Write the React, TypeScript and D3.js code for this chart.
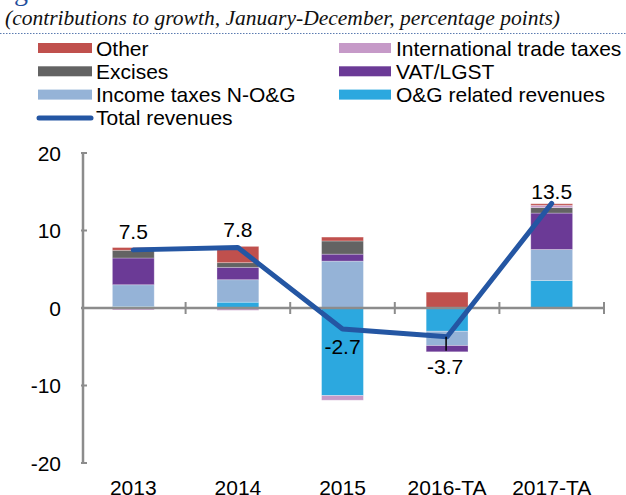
import React from "react";
import * as d3 from "d3";

const categories = ["2013", "2014", "2015", "2016-TA", "2017-TA"];
const ogRevenues = [0.2, 0.75, -11.3, -3.0, 3.55];
const incomeTaxes = [2.8, 2.9, 6.05, -1.85, 4.0];
const vatLgst = [3.45, 1.6, 0.9, -0.8, 4.7];
const excises = [1.0, 0.6, 1.7, 0, 0.7];
const tradeTaxes = [-0.25, -0.3, -0.6, 0, 0.3];
const other = [0.35, 2.1, 0.5, 2.05, 0.2];
const totalRevenues = [7.5, 7.8, -2.7, -3.7, 13.5];
const totalLabels = ["7.5", "7.8", "-2.7", "-3.7", "13.5"];
const yTicks = [20, 10, 0, -10, -20];

const seriesKeys = ["og", "income", "vat", "excises", "trade", "other"];
const seriesNames: Record<string, string> = {
  og: "O&G related revenues",
  income: "Income taxes N-O&G",
  vat: "VAT/LGST",
  excises: "Excises",
  trade: "International trade taxes",
  other: "Other",
};
const seriesColors: Record<string, string> = {
  og: "#2ca8df",
  income: "#95b3d7",
  vat: "#6b3a96",
  excises: "#636363",
  trade: "#c69ac8",
  other: "#c0504d",
};
const lineColor = "#2456a3";

// label layout (pixel offsets relative to the point)
const labelDy = [-11, -11, 25, 37, -4];
const FONT = "'Liberation Sans', Arial, sans-serif";

export default function App() {
  const W = 626;
  const H = 495;
  const x = d3
    .scaleBand<string>()
    .domain(categories)
    .range([81, 604])
    .paddingInner(0.6)
    .paddingOuter(0.3);
  const y = d3.scaleLinear().domain([-20, 20]).range([463, 153]);
  const step = x.step();
  const center = (c: string) => (x(c) as number) + x.bandwidth() / 2;

  const rows = categories.map((c, i) => ({
    cat: c,
    og: ogRevenues[i],
    income: incomeTaxes[i],
    vat: vatLgst[i],
    excises: excises[i],
    trade: tradeTaxes[i],
    other: other[i],
  }));
  const stack = d3
    .stack<any>()
    .keys(seriesKeys)
    .offset(d3.stackOffsetDiverging);
  const stacked = stack(rows);

  const linePts: [number, number][] = categories.map((c, i) => [
    center(c),
    y(totalRevenues[i]),
  ]);
  const lineGen = d3.line();

  const axisColor = "#8c8c8c";
  const boundaries = d3.range(categories.length + 1).map((i) => 81 + i * step);

  const legendLeft = [
    { key: "other" },
    { key: "excises" },
    { key: "income" },
  ];
  const legendRight = [{ key: "trade" }, { key: "vat" }, { key: "og" }];
  const rowY = [48, 71.3, 94.6, 117.9];

  return (
    <svg
      width={W}
      height={H}
      style={{ position: "absolute", left: 0, top: 0, background: "#fff" }}
    >
      <rect x={0} y={0} width={W} height={H} fill="#fff" />
      {/* cut-off title glyph */}
      <text
        x={14}
        y={0}
        fontFamily="'Liberation Serif', serif"
        fontSize={28}
        fill="#1f4e9c"
      >
        g
      </text>
      <text
        x={5}
        y={25}
        fontFamily="'Liberation Serif', 'Times New Roman', serif"
        fontStyle="italic"
        fontSize={21}
        fill="#111"
        textLength={555}
        lengthAdjust="spacingAndGlyphs"
      >
        (contributions to growth, January-December, percentage points)
      </text>
      <line
        x1={0}
        x2={W}
        y1={33.5}
        y2={33.5}
        stroke="#5b7bb0"
        strokeWidth={1}
        strokeDasharray="1.5,1.5"
      />

      {/* legend */}
      {legendLeft.map((d, i) => (
        <g key={d.key}>
          <rect
            x={38}
            y={rowY[i] - 5}
            width={54}
            height={10}
            fill={seriesColors[d.key]}
          />
          <text
            x={96}
            y={rowY[i] + 7.5}
            fontFamily={FONT}
            fontSize={21}
            fill="#000"
          >
            {seriesNames[d.key]}
          </text>
        </g>
      ))}
      {legendRight.map((d, i) => (
        <g key={d.key}>
          <rect
            x={339}
            y={rowY[i] - 5}
            width={52}
            height={10}
            fill={seriesColors[d.key]}
          />
          <text
            x={396}
            y={rowY[i] + 7.5}
            fontFamily={FONT}
            fontSize={21}
            fill="#000"
          >
            {seriesNames[d.key]}
          </text>
        </g>
      ))}
      <line
        x1={39}
        x2={91}
        y1={rowY[3]}
        y2={rowY[3]}
        stroke={lineColor}
        strokeWidth={5}
        strokeLinecap="round"
      />
      <text x={96} y={rowY[3] + 7.5} fontFamily={FONT} fontSize={21}>
        Total revenues
      </text>

      {/* y axis */}
      <line
        x1={83}
        x2={83}
        y1={y(20)}
        y2={y(-20)}
        stroke={axisColor}
        strokeWidth={2.5}
      />
      {yTicks.map((t) => (
        <g key={t}>
          <line
            x1={81}
            x2={87}
            y1={y(t)}
            y2={y(t)}
            stroke={axisColor}
            strokeWidth={2}
          />
          <text
            x={61}
            y={y(t) + 7.5}
            textAnchor="end"
            fontFamily={FONT}
            fontSize={21}
          >
            {t}
          </text>
        </g>
      ))}

      {/* bars */}
      {stacked.map((s) => (
        <g key={s.key}>
          {s.map((d, i) => {
            const y0 = y(d[0]);
            const y1 = y(d[1]);
            const h = Math.abs(y0 - y1);
            if (h < 0.01) return null;
            return (
              <rect
                key={i}
                x={x(categories[i]) as number}
                y={Math.min(y0, y1)}
                width={x.bandwidth()}
                height={h}
                fill={seriesColors[s.key]}
                stroke="#ffffff"
                strokeOpacity={0.35}
                strokeWidth={0.8}
              />
            );
          })}
        </g>
      ))}

      {/* x axis */}
      <line
        x1={81}
        x2={604}
        y1={y(0)}
        y2={y(0)}
        stroke={axisColor}
        strokeWidth={2.5}
      />
      {boundaries.slice(1).map((b, i) => (
        <line
          key={i}
          x1={b}
          x2={b}
          y1={y(0) - 6}
          y2={y(0) + 6}
          stroke={axisColor}
          strokeWidth={2}
        />
      ))}
      {categories.map((c) => (
        <text
          key={c}
          x={center(c)}
          y={495}
          textAnchor="middle"
          fontFamily={FONT}
          fontSize={21}
        >
          {c}
        </text>
      ))}

      {/* total line */}
      <path
        d={lineGen(linePts) || ""}
        fill="none"
        stroke={lineColor}
        strokeWidth={5}
        strokeLinejoin="round"
        strokeLinecap="round"
      />
      {/* leader line for -3.7 */}
      <line
        x1={linePts[3][0] - 1}
        x2={linePts[3][0] - 1}
        y1={linePts[3][1]}
        y2={linePts[3][1] + 14}
        stroke="#000"
        strokeWidth={1.5}
      />
      {categories.map((c, i) => (
        <text
          key={c}
          x={linePts[i][0] + (i === 3 ? -2 : 0)}
          y={linePts[i][1] + labelDy[i]}
          textAnchor="middle"
          fontFamily={FONT}
          fontSize={21}
        >
          {totalLabels[i]}
        </text>
      ))}
    </svg>
  );
}
